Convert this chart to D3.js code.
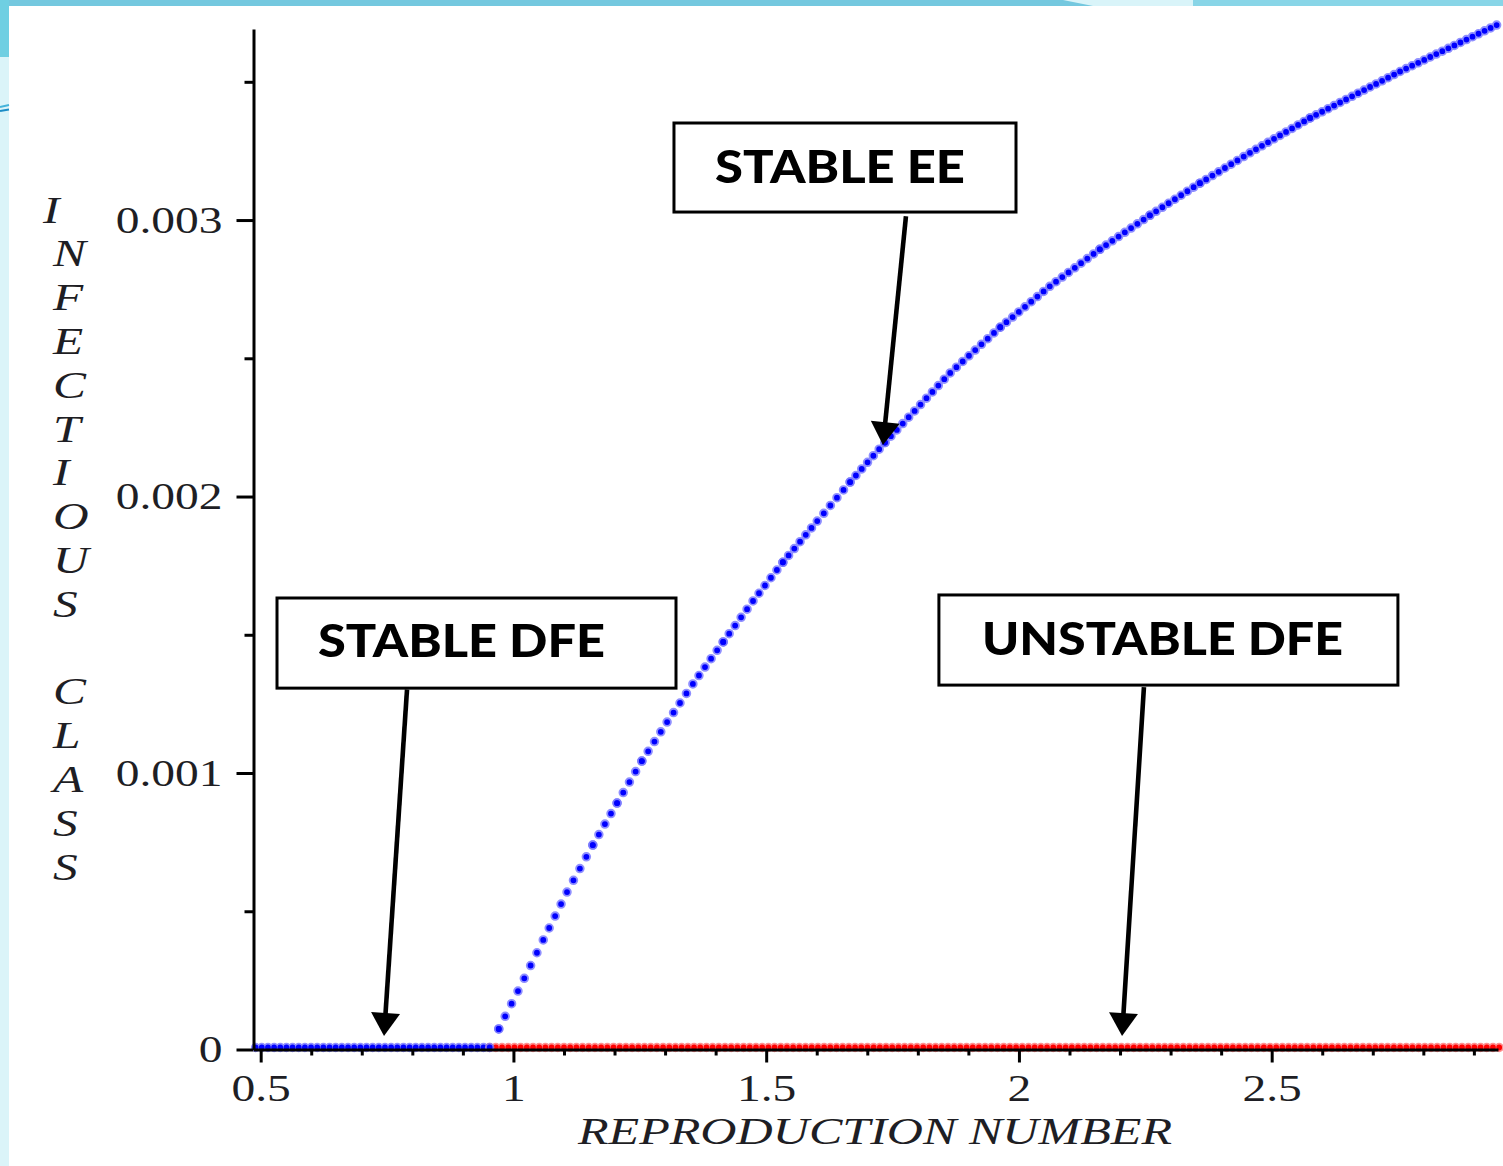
<!DOCTYPE html>
<html>
<head>
<meta charset="utf-8">
<script src="https://cdn.jsdelivr.net/npm/d3@7"></script>
<style>
  html, body { margin: 0; padding: 0; background: #ffffff; }
  svg { display: block; }
</style>
</head>
<body>
<svg id="chart" width="1503" height="1166"></svg>
<script>
// ---- Data -------------------------------------------------------------
// Endemic equilibrium branch: reproduction number vs. infectious class
const eeR = [0.953, 0.971, 1.009, 1.059, 1.106, 1.157, 1.205, 1.254, 1.304, 1.355,
             1.415, 1.474, 1.533, 1.601, 1.666, 1.735, 1.864, 1.963, 2.061, 2.160,
             2.259, 2.358, 2.457, 2.576, 2.754, 2.945];
const eeI = [0, 0.000067, 0.000204, 0.000389, 0.000562, 0.000732, 0.000884, 0.001036, 0.001177, 0.001315,
             0.001467, 0.001615, 0.001755, 0.001904, 0.002045, 0.002188, 0.002440, 0.002605, 0.002753, 0.002887,
             0.003010, 0.003126, 0.003236, 0.003362, 0.003530, 0.003698];

// Disease-free equilibrium (I = 0): stable below threshold, unstable above
const dfeStableR = [0.49, 0.953];
const dfeStableI = [0, 0];
const dfeUnstableR = [0.953, 2.95];
const dfeUnstableI = [0, 0];

// Axis ticks and labels
const xMajorTicks = [0.5, 1, 1.5, 2, 2.5];
const xTickLabels = ["0.5", "1", "1.5", "2", "2.5"];
const xMinorTicks = [0.6, 0.7, 0.8, 0.9, 1.1, 1.2, 1.3, 1.4, 1.6, 1.7, 1.8, 1.9,
                     2.1, 2.2, 2.3, 2.4, 2.6, 2.7, 2.8, 2.9];
const yMajorTicks = [0, 0.001, 0.002, 0.003];
const yTickLabels = ["0", "0.001", "0.002", "0.003"];
const yMinorTicks = [0.0005, 0.0015, 0.0025, 0.0035];

const xTitle = "REPRODUCTION NUMBER";
const yTitle = "INFECTIOUS CLASS";

// Callout labels and the (R, I) points their arrows point at
const calloutText = ["STABLE EE", "STABLE DFE", "UNSTABLE DFE"];
const calloutTipR = [1.731, 0.744, 2.204];
const calloutTipI = [0.002186, 0.0000488, 0.0000488];

// ---- Layout -----------------------------------------------------------
const W = 1503, H = 1166;
const svg = d3.select("#chart");

const x = d3.scaleLinear().domain([0.4858, 2.9477]).range([253.5, 1498]);
const y = d3.scaleLinear().domain([0, 0.003691]).range([1049.5, 29]);

// Callout boxes and arrow tails, in data units
const calloutLayout = [
  { r0: 1.3176, r1: 1.9942, iTop: 0.003351, iBot: 0.003029, tailR: 1.7765, tailI: 0.003014, textDx: 41, textDy: 60, textW: 250 },
  { r0: 0.5323, r1: 1.3216, iTop: 0.001633, iBot: 0.001307, tailR: 0.7895, tailI: 0.001302, textDx: 41, textDy: 59, textW: 287 },
  { r0: 1.8417, r1: 2.7497, iTop: 0.001644, iBot: 0.001318, tailR: 2.2473, tailI: 0.001311, textDx: 43, textDy: 60, textW: 361 }
];

// ---- Slide background -------------------------------------------------
const bg = svg.append("g");
bg.append("rect").attr("x", 0).attr("y", 0).attr("width", W).attr("height", H).attr("fill", "#ffffff");
bg.append("rect").attr("x", 0).attr("y", 0).attr("width", W).attr("height", 6).attr("fill", "#74c8df");
bg.append("rect").attr("x", 1193).attr("y", 0).attr("width", W - 1193).attr("height", 6).attr("fill", "#88d5e7");
bg.append("path").attr("d", "M1063,0 L1193,0 L1193,6 L1093,6 Z").attr("fill", "#d9f4f9");
bg.append("rect").attr("x", 0).attr("y", 0).attr("width", 9).attr("height", H).attr("fill", "#dbf4f9");
bg.append("rect").attr("x", 0).attr("y", 0).attr("width", 9).attr("height", 57).attr("fill", "#6fcfe2");
bg.append("path").attr("d", "M0,107 L9,105").attr("stroke", "#44b3da").attr("stroke-width", 2).attr("fill", "none");
bg.append("path").attr("d", "M0,111 L9,109.5").attr("stroke", "#1b8cc6").attr("stroke-width", 2).attr("fill", "none");

// ---- Curves drawn as rows of small dots (one dot per sample step) -----
const dotStep = 6.2; // horizontal pixel step between plotted samples
function dottedSegments(rs, is) {
  const segs = [];
  for (let k = 0; k < rs.length - 1; k++) {
    const x1 = x(rs[k]), y1 = y(is[k]), x2 = x(rs[k + 1]), y2 = y(is[k + 1]);
    const L = Math.hypot(x2 - x1, y2 - y1);
    const n = Math.max(1, Math.round((x2 - x1) / dotStep));
    segs.push({ x1, y1, x2, y2, gap: L / n });
  }
  return segs;
}
function drawDotted(g, rs, is, core, halo) {
  const segs = dottedSegments(rs, is);
  g.append("g").selectAll("line").data(segs).join("line")
    .attr("x1", d => d.x1).attr("y1", d => d.y1).attr("x2", d => d.x2).attr("y2", d => d.y2)
    .attr("stroke", halo).attr("stroke-width", 9.5).attr("stroke-linecap", "round")
    .attr("stroke-dasharray", d => `0 ${d.gap}`).attr("opacity", 0.8);
  g.append("g").selectAll("line").data(segs).join("line")
    .attr("x1", d => d.x1).attr("y1", d => d.y1).attr("x2", d => d.x2).attr("y2", d => d.y2)
    .attr("stroke", core).attr("stroke-width", 5.8).attr("stroke-linecap", "round")
    .attr("stroke-dasharray", d => `0 ${d.gap}`);
}

// the plotted curves sit a hair above the axis line
const plot = svg.append("g").attr("transform", "translate(0,-2)");
drawDotted(plot, dfeStableR, dfeStableI, "#0000ff", "#7474ff");
drawDotted(plot, dfeUnstableR, dfeUnstableI, "#ff0000", "#ff7474");
drawDotted(plot, eeR, eeI, "#0000ff", "#7474ff");

// ---- Axes ---------------------------------------------------------------
const tickFont = "'Liberation Serif', 'Times New Roman', serif";
const textColor = "#1e1e24";

const gy = svg.append("g").attr("transform", `translate(${x(x.domain()[0])},0)`)
  .call(d3.axisLeft(y).tickValues(yMajorTicks).tickFormat((d, k) => yTickLabels[k])
    .tickSize(17).tickSizeOuter(0).tickPadding(14));
gy.append("g").call(d3.axisLeft(y).tickValues(yMinorTicks).tickFormat("").tickSize(9).tickSizeOuter(0))
  .select(".domain").remove();

const gx = svg.append("g").attr("transform", `translate(0,${y(0)})`)
  .call(d3.axisBottom(x).tickValues(xMajorTicks).tickFormat((d, k) => xTickLabels[k])
    .tickSize(13).tickSizeOuter(0).tickPadding(14));
gx.append("g").call(d3.axisBottom(x).tickValues(xMinorTicks).tickFormat("").tickSize(6).tickSizeOuter(0))
  .select(".domain").remove();

[gx, gy].forEach(g => {
  g.attr("font-family", null).attr("font-size", null);
  g.selectAll(".domain").attr("stroke", "#000").attr("stroke-width", 3);
  g.selectAll(".tick line").attr("stroke", "#000").attr("stroke-width", 3);
});

gy.selectAll(".tick text")
  .attr("x", 0).attr("dy", "0.32em")
  .attr("transform", "translate(-31,0) scale(1.25,1)")
  .attr("font-family", tickFont).attr("font-size", 38).attr("fill", textColor);
gx.selectAll(".tick text")
  .attr("y", 0).attr("dy", null)
  .attr("transform", "translate(0,51) scale(1.25,1)")
  .attr("font-family", tickFont).attr("font-size", 38).attr("fill", textColor);

// ---- Axis titles ----------------------------------------------------------
svg.append("text")
  .attr("x", 578).attr("y", 1144)
  .attr("textLength", 594).attr("lengthAdjust", "spacingAndGlyphs")
  .attr("font-family", tickFont).attr("font-style", "italic").attr("font-size", 38)
  .attr("fill", textColor)
  .text(xTitle);

// vertical title: one letter per line
const yTitleG = svg.append("g");
yTitle.split("").forEach((ch, k) => {
  if (ch === " ") return;
  const bx = k === 0 ? 43 : 53;
  yTitleG.append("text")
    .attr("transform", `translate(${bx},${222.5 + k * 43.8}) scale(1.3,1)`)
    .attr("font-family", tickFont).attr("font-style", "italic").attr("font-size", 38)
    .attr("fill", textColor)
    .text(ch);
});

// ---- Callouts -------------------------------------------------------------
const calloutG = svg.append("g");
calloutLayout.forEach((c, k) => {
  const bx0 = x(c.r0), bx1 = x(c.r1), by0 = y(c.iTop), by1 = y(c.iBot);
  calloutG.append("rect")
    .attr("x", bx0).attr("y", by0).attr("width", bx1 - bx0).attr("height", by1 - by0)
    .attr("fill", "#ffffff").attr("stroke", "#000").attr("stroke-width", 3);
  calloutG.append("text")
    .attr("x", bx0 + c.textDx).attr("y", by0 + c.textDy)
    .attr("textLength", c.textW).attr("lengthAdjust", "spacingAndGlyphs")
    .attr("font-family", "Lato, 'Open Sans', sans-serif").attr("font-weight", 900)
    .attr("font-size", 46).attr("fill", "#000")
    .text(calloutText[k]);

  // arrow from box to the equilibrium it labels
  const tx = x(c.tailR), ty = y(c.tailI);
  const hx = x(calloutTipR[k]), hy = y(calloutTipI[k]);
  const len = Math.hypot(hx - tx, hy - ty);
  const ux = (hx - tx) / len, uy = (hy - ty) / len;
  const headL = 23, headW = 14.5;
  const bxh = hx - ux * headL, byh = hy - uy * headL;
  calloutG.append("line")
    .attr("x1", tx).attr("y1", ty).attr("x2", bxh + ux * 2).attr("y2", byh + uy * 2)
    .attr("stroke", "#000").attr("stroke-width", 4.6);
  calloutG.append("path")
    .attr("d", `M${hx},${hy} L${bxh - uy * headW},${byh + ux * headW} L${bxh + uy * headW},${byh - ux * headW} Z`)
    .attr("fill", "#000");
});
</script>
</body>
</html>
